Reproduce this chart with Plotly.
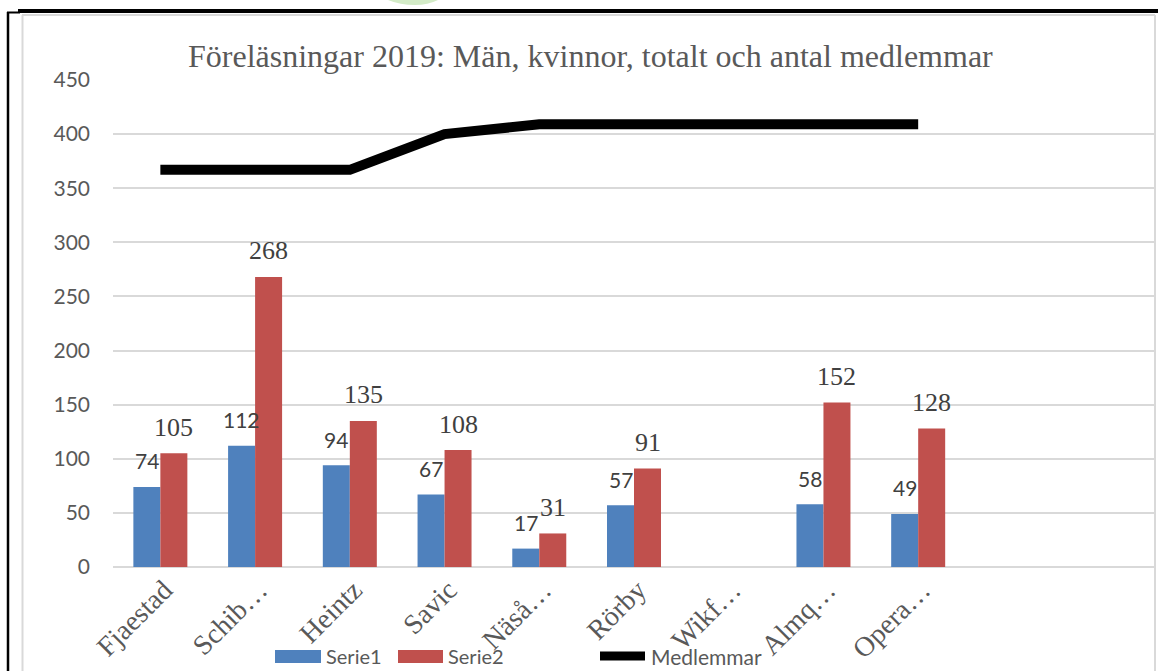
import plotly.graph_objects as go

# ---- data ----
categories = ["Fjaestad", "Schib…", "Heintz", "Savic", "Näså…", "Rörby", "Wikf…", "Almq…", "Opera…"]
serie1 = [74, 112, 94, 67, 17, 57, None, 58, 49]
serie2 = [105, 268, 135, 108, 31, 91, None, 152, 128]
medlemmar = [367, 367, 367, 400, 409, 409, 409, 409, 409]
series_names = ["Serie1", "Serie2", "Medlemmar"]
title_text = "Föreläsningar 2019: Män, kvinnor, totalt och antal medlemmar"
y_ticks = [0, 50, 100, 150, 200, 250, 300, 350, 400, 450]

BLUE = "#4f81bd"
RED = "#c0504d"
GRAY_TXT = "#595959"
LABEL_TXT = "#404040"
GRID = "#d9d9d9"

SANS = "Lato, Liberation Sans, sans-serif"
SERIF = "Liberation Serif, Times New Roman, serif"

W, H = 1158, 671
L, R, T, B = 113, 3, 80, 104
PW, PH = W - L - R, H - T - B
BARGAP = 0.43
bw = (1 - BARGAP) / 2

def px(x):
    return (x - L) / PW

def py(y):
    return (H - B - y) / PH

xs = list(range(len(categories)))

fig = go.Figure()
fig.add_trace(go.Bar(x=xs, y=serie1, name=series_names[0], marker=dict(color=BLUE, line=dict(width=0)),
                     showlegend=False))
fig.add_trace(go.Bar(x=xs, y=serie2, name=series_names[1], marker=dict(color=RED, line=dict(width=0)),
                     showlegend=False))
fig.add_trace(go.Scatter(x=xs, y=medlemmar, name=series_names[2], mode="lines",
                         line=dict(color="black", width=10), showlegend=False))

annotations = []
for i, v in enumerate(serie1):
    if v is None:
        continue
    annotations.append(dict(x=i - bw / 2, y=v, xref="x", yref="y", text=str(v), showarrow=False,
                            yanchor="middle", yshift=26,
                            font=dict(family=SANS, size=21, color=LABEL_TXT)))
for i, v in enumerate(serie2):
    if v is None:
        continue
    annotations.append(dict(x=i + bw / 2, y=v, xref="x", yref="y", text=str(v), showarrow=False,
                            yanchor="middle", yshift=26,
                            font=dict(family=SERIF, size=26, color=LABEL_TXT)))

# title
annotations.append(dict(x=px(590), y=py(56), xref="paper", yref="paper", text=title_text, showarrow=False,
                        xanchor="center", yanchor="middle",
                        font=dict(family=SERIF, size=32, color=GRAY_TXT)))

# legend (custom)
leg_font = dict(family=SANS, size=20, color=GRAY_TXT)
annotations.append(dict(x=px(324), y=py(656), xref="paper", yref="paper", text=series_names[0], showarrow=False,
                        xanchor="left", yanchor="middle", font=leg_font))
annotations.append(dict(x=px(446), y=py(656), xref="paper", yref="paper", text=series_names[1], showarrow=False,
                        xanchor="left", yanchor="middle", font=leg_font))
annotations.append(dict(x=px(649), y=py(656), xref="paper", yref="paper", text=series_names[2], showarrow=False,
                        xanchor="left", yanchor="middle", font=dict(family=SANS, size=21, color=GRAY_TXT)))

shapes = [
    # legend symbols
    dict(type="rect", xref="paper", yref="paper", x0=px(275), x1=px(321), y0=py(650), y1=py(663),
         fillcolor=BLUE, line=dict(width=0)),
    dict(type="rect", xref="paper", yref="paper", x0=px(398), x1=px(443), y0=py(650), y1=py(663),
         fillcolor=RED, line=dict(width=0)),
    dict(type="line", xref="paper", yref="paper", x0=px(600), x1=px(645), y0=py(656), y1=py(656),
         line=dict(color="black", width=9)),
    # gray chart border
    dict(type="line", xref="paper", yref="paper", x0=px(22.5), x1=px(22.5), y0=py(15), y1=py(671),
         line=dict(color=GRID, width=2)),
    dict(type="line", xref="paper", yref="paper", x0=px(22), x1=px(1155), y0=py(15), y1=py(15),
         line=dict(color=GRID, width=2)),
    dict(type="line", xref="paper", yref="paper", x0=px(1155), x1=px(1155), y0=py(15), y1=py(671),
         line=dict(color=GRID, width=2)),
    # black frame
    dict(type="line", xref="paper", yref="paper", x0=px(18), x1=px(1158), y0=py(11), y1=py(11),
         line=dict(color="black", width=4)),
    dict(type="line", xref="paper", yref="paper", x0=px(7), x1=px(20), y0=py(12.5), y1=py(12.5),
         line=dict(color="black", width=2)),
    dict(type="line", xref="paper", yref="paper", x0=px(8), x1=px(8), y0=py(12), y1=py(671),
         line=dict(color="black", width=2.5)),
    # green decoration fragment at top
    dict(type="path", xref="paper", yref="paper",
         path=f"M {px(388)},{py(0)} Q {px(400)},{py(5)} {px(415)},{py(5)} Q {px(428)},{py(5)} {px(438)},{py(0)} Z",
         fillcolor="#d3ebc7", line=dict(width=0)),
]

fig.update_layout(
    width=W, height=H,
    margin=dict(l=L, r=R, t=T, b=B),
    paper_bgcolor="white", plot_bgcolor="white",
    barmode="group", bargap=BARGAP, bargroupgap=0,
    showlegend=False,
    annotations=annotations,
    shapes=shapes,
    xaxis=dict(range=[-0.5, 10.5], tickvals=xs, ticktext=categories, tickangle=-45,
               showgrid=False, zeroline=False, showline=False, ticks="", automargin=False,
               ticklabelstandoff=0, ticklabelshift=4,
               tickfont=dict(family=SERIF, size=28, color=GRAY_TXT)),
    yaxis=dict(range=[0, 450], tickvals=y_ticks, showgrid=True, gridcolor=GRID, gridwidth=1.5,
               zeroline=True, zerolinecolor=GRID, zerolinewidth=1.5, showline=False, ticks="",
               ticklabelstandoff=22, automargin=False,
               tickfont=dict(family=SANS, size=21, color=GRAY_TXT)),
)

fig.write_html("out.html", config={"displayModeBar": False},
               post_script="document.body.style.margin='0';document.body.style.overflow='hidden';")
